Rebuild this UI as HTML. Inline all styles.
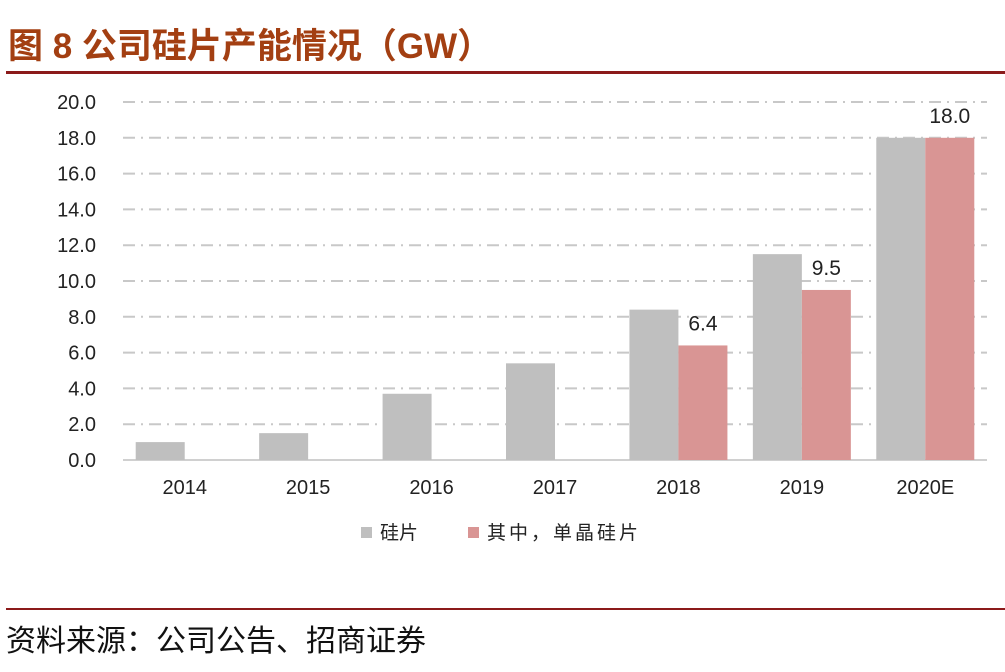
<!DOCTYPE html>
<html><head><meta charset="utf-8"><style>
body{margin:0;width:1005px;height:672px;background:#fff;overflow:hidden;font-family:"Liberation Sans","Noto Sans CJK SC",sans-serif;}
</style></head><body>
<svg width="1005" height="672" style="position:absolute;left:0;top:0">
<text x="8" y="58" font-size="35" font-weight="bold" fill="#A33F12" font-family="Liberation Sans, Noto Sans CJK SC, sans-serif">图 8  公司硅片产能情况（GW）</text>
<rect x="6" y="71" width="999" height="3" fill="#8B1A1A"/>
<g id="grid"></g><g id="bars"></g><g id="labels"></g>
<rect x="361" y="527" width="11" height="11" fill="#BFBFBF"/>
<text x="380" y="539" font-size="19" fill="#222" font-family="Noto Sans CJK SC, sans-serif">硅片</text>
<rect x="468" y="527" width="11" height="11" fill="#D99594"/>
<text x="487" y="539" font-size="19" fill="#222" letter-spacing="3" font-family="Noto Sans CJK SC, sans-serif">其中，单晶硅片</text>
<rect x="6" y="608" width="999" height="2" fill="#8B1A1A"/>
<text x="6" y="651" font-size="30" fill="#111" font-family="Noto Sans CJK SC, sans-serif">资料来源：公司公告、招商证券</text>
</svg>
<script>
const categories=["2014","2015","2016","2017","2018","2019","2020E"];
const wafer=[1.0,1.5,3.7,5.4,8.4,11.5,18.0];
const mono=[null,null,null,null,6.4,9.5,18.0];
const yTicks=[0,2,4,6,8,10,12,14,16,18,20];
const NS="http://www.w3.org/2000/svg";
const x0=123,x1=987,yb=460,yt=102,ymax=20;
const bw=(x1-x0)/categories.length, barW=49;
const y=v=>yb-(v/ymax)*(yb-yt);
const xc=i=>x0+bw*(i+0.5);
function mk(t,a,p){const e=document.createElementNS(NS,t);for(const k in a)e.setAttribute(k,a[k]);p.appendChild(e);return e;}
const g=document.getElementById('grid'),b=document.getElementById('bars'),l=document.getElementById('labels');
yTicks.forEach(v=>{
 if(v>0){const ln=mk('line',{x1:x0,x2:x1,y1:y(v),y2:y(v),stroke:'#C8C8C8','stroke-width':2,'stroke-dasharray':'12 6 2 6'},g);
 
 }
 const t=mk('text',{x:96,y:y(v)+7,'font-size':20,'text-anchor':'end',fill:'#222'},g);t.textContent=v.toFixed(1);
 
 
});
const ax=mk('line',{x1:x0,x2:x1,y1:yb,y2:yb,stroke:'#D0D0D0','stroke-width':2},g);


categories.forEach((c,i)=>{
 const r=mk('rect',{x:xc(i)-barW,y:y(wafer[i]),width:barW,height:yb-y(wafer[i]),fill:'#BFBFBF'},b);
 
 
 if(mono[i]!=null){
  const m=mk('rect',{x:xc(i),y:y(mono[i]),width:barW,height:yb-y(mono[i]),fill:'#D99594'},b);
  
  
  const t=mk('text',{x:xc(i)+barW/2,y:y(mono[i])-15,'font-size':21,'text-anchor':'middle',fill:'#222'},l);t.textContent=mono[i].toFixed(1);
  
  
 }
 const t=mk('text',{x:xc(i),y:494,'font-size':20,'text-anchor':'middle',fill:'#222'},l);t.textContent=c;
 
 
});
</script>
</body></html>
